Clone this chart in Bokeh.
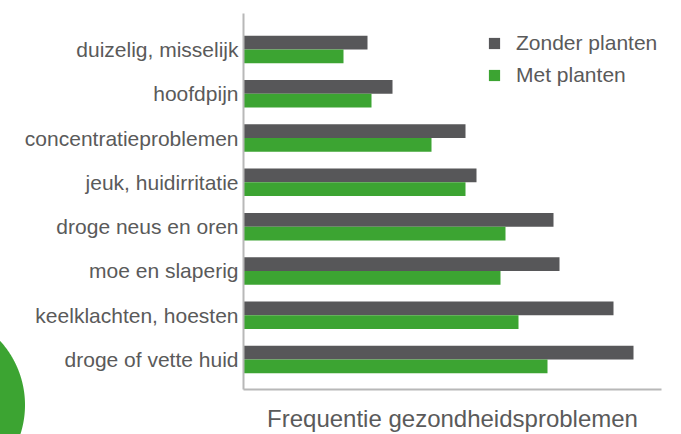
from bokeh.plotting import figure
from bokeh.models import Range1d, FixedTicker, Legend, LegendItem, ColumnDataSource
from bokeh.transform import dodge
from bokeh.embed import file_html
from bokeh.resources import INLINE

categories = ["duizelig, misselijk", "hoofdpijn", "concentratieproblemen",
              "jeuk, huidirritatie", "droge neus en oren", "moe en slaperig",
              "keelklachten, hoesten", "droge of vette huid"]
zonder_planten = [124, 149, 222, 233, 310, 316, 370, 390]
met_planten = [100, 128, 188, 222, 262, 257, 275, 304]
series_names = ["Zonder planten", "Met planten"]
x_title = "Frequentie gezondheidsproblemen"

DARK = "#575759"
GREEN = "#3ca432"
TEXT = "#5a5a5a"
AXIS = "#b8b8b8"
FONT = "Liberation Sans"

pos = list(range(len(categories)))
src = ColumnDataSource(dict(pos=pos, cat=categories, zonder=zonder_planten, met=met_planten))

p = figure(width=681, height=434, output_backend="svg", toolbar_location=None,
           x_range=Range1d(0, 418), y_range=Range1d(7.675, -0.81),
           min_border_left=243, min_border_right=20, min_border_top=13,
           min_border_bottom=44)

r1 = p.hbar(y=dodge("pos", -0.155), left=0, right="zonder", height=0.31,
            source=src, fill_color=DARK, line_color=None)
r2 = p.hbar(y=dodge("pos", 0.155), left=0, right="met", height=0.31,
            source=src, fill_color=GREEN, line_color=None)

p.xgrid.visible = False
p.ygrid.visible = False
p.outline_line_color = None
p.background_fill_color = "white"
# transparent border so the decorative disc (page background) shows at the left edge
p.border_fill_color = None
p.styles = {
    "background": ("radial-gradient(circle 95px at -70px 405px, "
                   + GREEN + " 94.5px, rgba(255,255,255,0) 95.5px), white"),
}

# y axis with category names
ya = p.yaxis[0]
ya.ticker = FixedTicker(ticks=pos)
ya.major_label_overrides = {i: c for i, c in enumerate(categories)}
ya.major_tick_line_color = None
ya.minor_tick_line_color = None
ya.major_tick_out = 0
ya.minor_tick_out = 0
ya.major_label_standoff = 5
ya.major_label_text_font = FONT
ya.major_label_text_font_size = "21px"
ya.major_label_text_color = TEXT
ya.axis_line_color = AXIS
ya.axis_line_width = 2

xa = p.xaxis[0]
xa.ticker = FixedTicker(ticks=[])
xa.major_tick_line_color = None
xa.minor_tick_line_color = None
xa.major_label_standoff = 0
xa.major_tick_out = 0
xa.minor_tick_out = 0
xa.axis_label = x_title
xa.axis_label_standoff = 15
xa.axis_label_text_font = FONT
xa.axis_label_text_font_size = "24px"
xa.axis_label_text_font_style = "normal"
xa.axis_label_text_color = TEXT
xa.axis_line_color = AXIS
xa.axis_line_width = 2

legend = Legend(items=[LegendItem(label=series_names[0], renderers=[r1]),
                       LegendItem(label=series_names[1], renderers=[r2])],
                location=(244, 302), margin=0, padding=0, spacing=8,
                glyph_width=14, glyph_height=14, label_standoff=15,
                label_text_font=FONT, label_text_font_size="21px",
                label_text_color=TEXT, background_fill_alpha=0,
                border_line_color=None)
p.add_layout(legend)

open("out.html", "w").write(file_html(p, INLINE))
